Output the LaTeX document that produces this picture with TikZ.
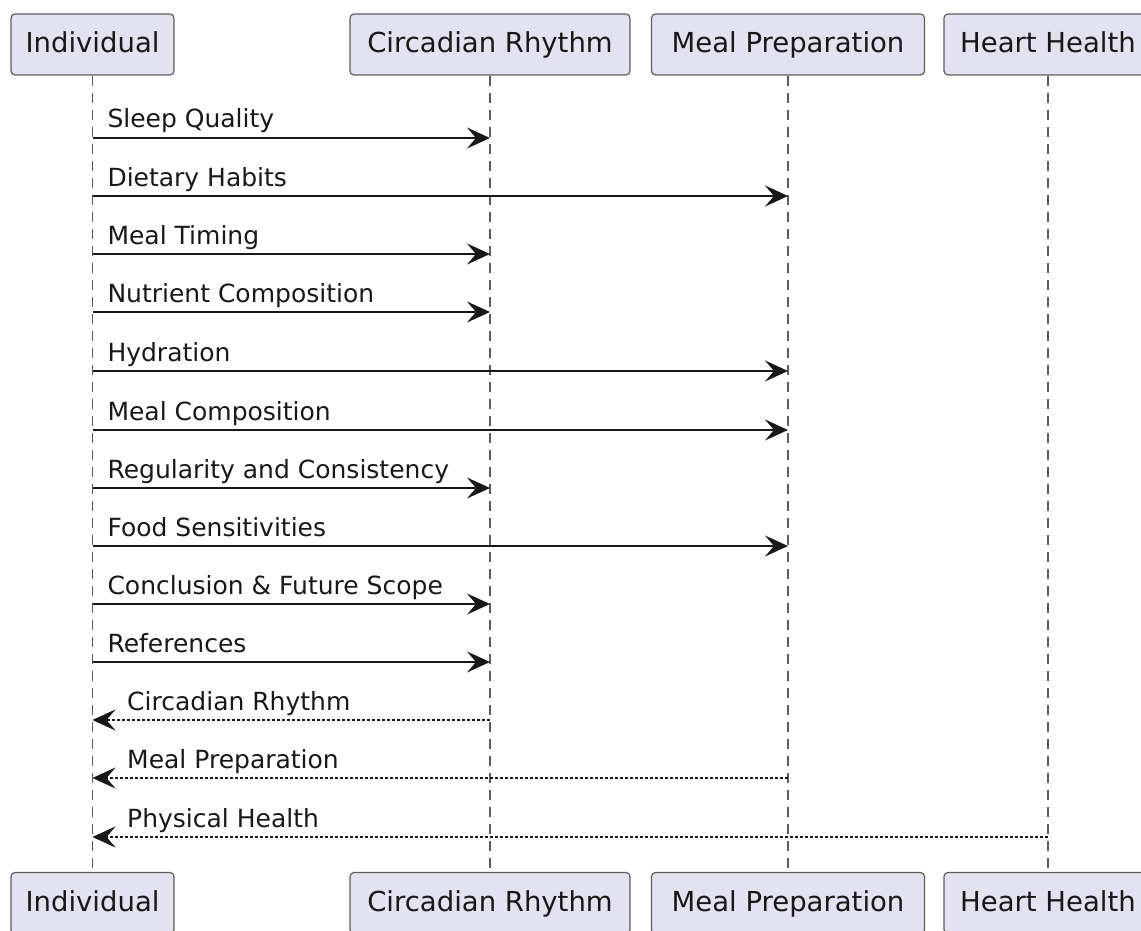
\documentclass[tikz,border=0pt]{standalone}
\usepackage{fontspec}
\setmainfont{DejaVu Sans}
\usetikzlibrary{arrows.meta}
\definecolor{boxfill}{HTML}{E2E2F0}
\definecolor{ink}{HTML}{181818}
\begin{document}
\begin{tikzpicture}[x=1pt,y=-1pt,
  part/.style={draw=ink!70, line width=1.2pt, fill=boxfill, rounded corners=4pt,
    minimum height=61pt, inner sep=0pt, text height=22pt, text depth=5pt,
    text=ink, font=\fontsize{27.5}{32}\selectfont},
  life/.style={draw=ink!70, line width=1.3pt, dash pattern=on 10pt off 7pt},
  msg/.style={draw=ink, line width=2pt, -{Stealth[length=23pt,width=21pt,inset=9pt]}},
  ret/.style={draw=ink, line width=1.4pt, dash pattern=on 3pt off 2pt,
    -{Stealth[length=23pt,width=21pt,inset=9pt,line width=0.6pt]}},
  lbl/.style={inner sep=0pt, text=ink, font=\fontsize{25}{30}\selectfont}]
\useasboundingbox (0,0) rectangle (1141,931);
\clip (0,0) rectangle (1141,931);
% participants
\node[part, minimum width=163pt] (iT) at (92.5,44.5) {Individual};
\node[part, minimum width=280pt] (cT) at (490,44.5) {Circadian Rhythm};
\node[part, minimum width=273pt] (mT) at (788,44.5) {Meal Preparation};
\node[part, minimum width=208pt] (hT) at (1048,44.5) {Heart Health};
\node[part, minimum width=163pt] (iB) at (92.5,903) {Individual};
\node[part, minimum width=280pt] (cB) at (490,903) {Circadian Rhythm};
\node[part, minimum width=273pt] (mB) at (788,903) {Meal Preparation};
\node[part, minimum width=208pt] (hB) at (1048,903) {Heart Health};
% lifelines
\draw[life] (iT.south) -- (iB.north);
\draw[life] (cT.south) -- (cB.north);
\draw[life] (mT.south) -- (mB.north);
\draw[life] (hT.south) -- (hB.north);
% messages
\foreach \y/\t/\lab in {138/cT/Sleep Quality, 196/mT/Dietary Habits, 254/cT/Meal Timing,
  312/cT/Nutrient Composition, 371/mT/Hydration, 430/mT/Meal Composition,
  488/cT/Regularity and Consistency, 546/mT/Food Sensitivities,
  604/cT/Conclusion \& Future Scope, 662/cT/References}{
  \draw[msg] (iT.south |- 0,\y) -- (\t.south |- 0,\y)
    node[lbl, pos=0, anchor=base west, xshift=14pt, yshift=10pt] {\lab};
}
\foreach \y/\t/\lab in {720/cT/Circadian Rhythm, 778/mT/Meal Preparation, 837/hT/Physical Health}{
  \draw[ret] (\t.south |- 0,\y) -- (iT.south |- 0,\y)
    node[lbl, pos=1, anchor=base west, xshift=34pt, yshift=10pt] {\lab};
}
\end{tikzpicture}
\end{document}
